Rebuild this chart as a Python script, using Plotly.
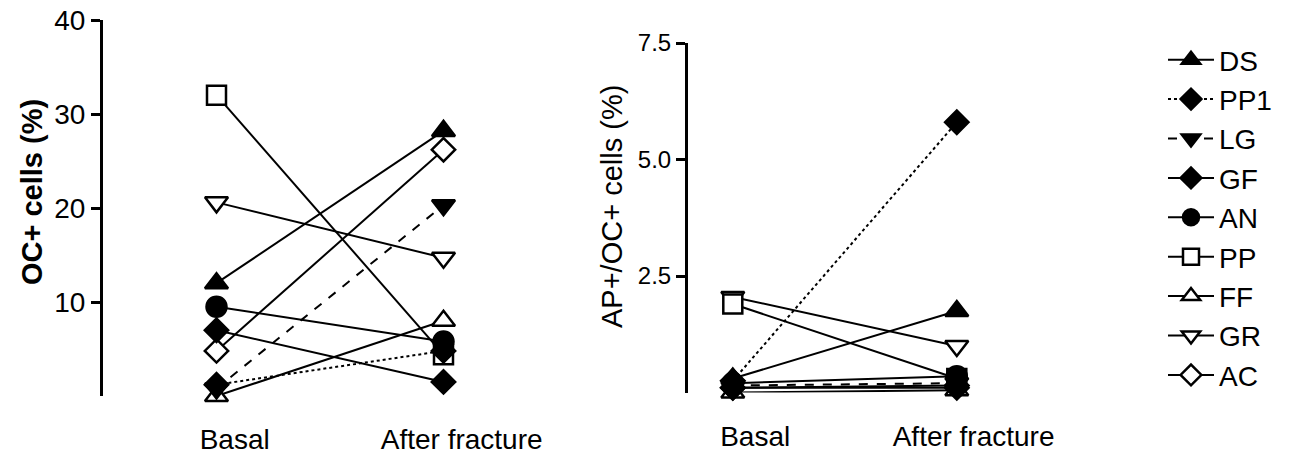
import plotly.graph_objects as go

# Time points and patients
stages = ["Basal", "After fracture"]
patients = ["DS", "PP1", "LG", "GF", "AN", "PP", "FF", "GR", "AC"]

# OC+ cells (%) per patient
oc_basal = [12.0, 1.2, 0.8, 7.0, 9.5, 32.0, 0.0, 20.6, 4.8]
oc_after = [28.2, 4.8, 20.3, 1.5, 5.8, 4.4, 8.0, 14.7, 26.2]

# AP+/OC+ cells (%) per patient
apoc_basal = [0.30, 0.25, 0.15, 0.10, 0.20, 1.90, 0.00, 2.05, 0.10]
apoc_after = [1.75, 5.80, 0.20, 0.15, 0.35, 0.30, 0.05, 1.00, 0.10]

# Axis tick values
oc_ticks = [10, 20, 30, 40]
apoc_ticks = [2.5, 5.0, 7.5]
apoc_ticktext = ["2.5", "5.0", "7.5"]

# Marker symbol, fill and line dash for each patient
symbols = {
    "DS": ("triangle-up", True, "solid"),
    "PP1": ("diamond", True, "dot"),
    "LG": ("triangle-down", True, "dash"),
    "GF": ("diamond", True, "solid"),
    "AN": ("circle", True, "solid"),
    "PP": ("square", False, "solid"),
    "FF": ("triangle-up", False, "solid"),
    "GR": ("triangle-down", False, "solid"),
    "AC": ("diamond", False, "solid"),
}
sizes = {"triangle-up": 20, "triangle-down": 20, "diamond": 18,
         "circle": 20, "square": 19}

FONT = "Liberation Sans, Arial, sans-serif"
xpos = list(range(len(stages)))

fig = go.Figure()

# drawing order: open symbols (square last) under the filled symbols
draw_order = ["FF", "GR", "AC", "PP", "DS", "PP1", "LG", "GF", "AN"]

for name in draw_order:
    i = patients.index(name)
    sym, filled, dash = symbols[name]
    marker = dict(
        symbol=sym,
        size=sizes[sym],
        color="black" if filled else "white",
        line=dict(color="black", width=2.5),
    )
    line = dict(color="black", width=2, dash=dash)
    fig.add_trace(go.Scatter(
        x=xpos, y=[oc_basal[i], oc_after[i]], mode="lines+markers",
        name=name, legendgroup=name, legendrank=i + 1,
        marker=marker, line=line, cliponaxis=False,
        xaxis="x", yaxis="y",
    ))
    fig.add_trace(go.Scatter(
        x=xpos, y=[apoc_basal[i], apoc_after[i]], mode="lines+markers",
        name=name, legendgroup=name, showlegend=False,
        marker=marker, line=line, cliponaxis=False,
        xaxis="x2", yaxis="y2",
    ))

H, W = 460, 1290

def px_domain(a, b, total):
    return [a / total, b / total]

y_common = dict(
    showline=True, linecolor="black", linewidth=3,
    ticks="outside", ticklen=9, tickwidth=3, tickcolor="black",
    showgrid=False, zeroline=False, automargin=False,
)
x_common = dict(
    showline=False, ticks="", showgrid=False, zeroline=False,
    tickmode="array", ticktext=stages, automargin=False,
    tickfont=dict(family=FONT, size=28, color="black"),
    ticklabelstandoff=24,
)

fig.update_layout(
    width=W, height=H,
    margin=dict(l=0, r=0, t=0, b=0, autoexpand=False),
    paper_bgcolor="white", plot_bgcolor="white",
    font=dict(family=FONT, color="black"),
    xaxis=dict(domain=px_domain(103, 557, W), range=[-0.5, 1.5],
               tickvals=[0.08, 1.08], anchor="y", **x_common),
    yaxis=dict(domain=[1 - 396 / H, 1 - 20 / H], range=[0, 40],
               tickvals=oc_ticks, anchor="x",
               tickfont=dict(family=FONT, size=28, color="black"),
               **y_common),
    xaxis2=dict(domain=px_domain(688, 1024, W), range=[-0.2, 1.3],
                tickvals=[0.1, 1.075], anchor="y2", **x_common),
    yaxis2=dict(domain=[1 - 392.5 / H, 1 - 43 / H], range=[0, 7.5],
                tickvals=apoc_ticks, ticktext=apoc_ticktext, anchor="x2",
                tickfont=dict(family=FONT, size=24, color="black"),
                **y_common),
    legend=dict(
        x=1163 / W, y=1 - 35 / H, xanchor="left", yanchor="top",
        font=dict(family=FONT, size=28, color="black"),
        itemwidth=46, tracegroupgap=0,
        bgcolor="rgba(0,0,0,0)",
    ),
    annotations=[
        dict(text="<b>OC+ cells (%)</b>", textangle=-90,
             x=32 / W, y=1 - 192 / H, xref="paper", yref="paper",
             xanchor="center", yanchor="middle", showarrow=False,
             font=dict(family=FONT, size=29, color="black")),
        dict(text="AP+/OC+ cells (%)", textangle=-90,
             x=612 / W, y=1 - 207 / H, xref="paper", yref="paper",
             xanchor="center", yanchor="middle", showarrow=False,
             font=dict(family=FONT, size=29, color="black")),
    ],
)

fig.write_html("out.html")
